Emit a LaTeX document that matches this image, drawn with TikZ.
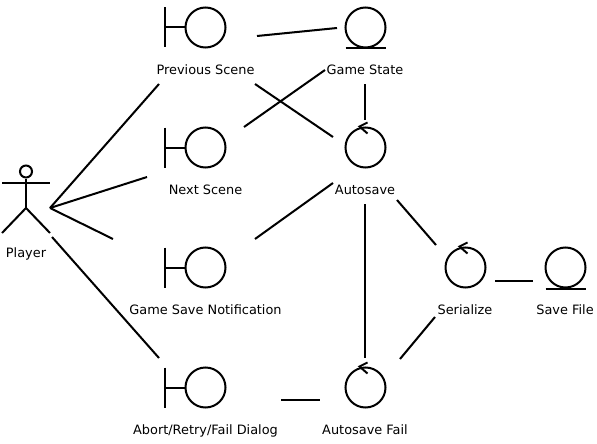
\documentclass[tikz,border=0pt]{standalone}
\usepackage{fontspec}
\setmainfont{DejaVu Sans}
\tikzset{
  line/.style={line width=2pt},
  roundel/.style={circle, draw, line width=2pt, minimum size=40pt, inner sep=0pt},
  caption/.style={anchor=base, inner sep=0pt, font=\fontsize{12.9}{14}\selectfont}
}
\begin{document}
\begin{tikzpicture}[x=1pt, y=-1pt]
  \useasboundingbox (0,0) rectangle (597,444);

  % boundaries
  \foreach \name/\y/\txt in {prev/27.5/{Previous Scene}, next/147.5/{Next Scene}, notif/267.5/{Game Save Notification}, abort/387.5/{Abort/Retry/Fail Dialog}} {
    \node [roundel] (\name) at (205.5,\y) {};
    \draw [line] (\name.west) -- ++(-20,0) coordinate (\name bar);
    \draw [line] ([yshift=20pt]\name bar) -- ([yshift=-20pt]\name bar);
    \node [caption] (\name text) at (205.5,\y+47.4) {\txt};
  }

  % entities
  \foreach \name/\x/\y/\txt in {state/365.5/27.5/{Game State}, file/565.5/267.5/{Save File}} {
    \node [roundel] (\name) at (\x,\y) {};
    \draw [line] ([xshift=-20pt]\name.south) -- ([xshift=20pt]\name.south);
    \node [caption] (\name text) at (\x-0.5,\y+47.4) {\txt};
  }

  % controls
  \foreach \name/\x/\y/\txt in {auto/365.5/147.5/{Autosave}, fail/365.5/387.5/{Autosave Fail}, serial/465.5/267.5/{Serialize}} {
    \node [roundel] (\name) at (\x,\y) {};
    \draw [line] ([shift={(2,-4)}]\name.north) -- ([shift={(-6,0)}]\name.north) -- ([shift={(2,7)}]\name.north);
    \node [caption] (\name text) at (\x-0.5,\y+47.4) {\txt};
  }

  % player
  \node [circle, draw, line width=2pt, minimum size=12pt, inner sep=0pt] (head) at (26,171.5) {};
  \coordinate (hip) at (26,208);
  \draw [line] (head) -- (hip);
  \draw [line] (2,183) -- (50,183);
  \draw [line] (2,233) -- (hip) -- (50,233);
  \node [caption] (playertext) at (26,257) {Player};

  % ends of the lines
  \coordinate (playerE) at (50,208);
  \coordinate (playerS) at (52,237);
  \coordinate (prevSW) at (159,84);
  \coordinate (prevE) at (257,36);
  \coordinate (prevSE) at (255,84);
  \coordinate (nextW) at (147,177);
  \coordinate (nextE) at (244,127);
  \coordinate (notifW) at (113,239);
  \coordinate (notifE) at (255,239);
  \coordinate (abortW) at (159,358);
  \coordinate (abortE) at (281,400);
  \coordinate (stateW) at (337,28);
  \coordinate (stateSW) at (325,70);
  \coordinate (stateS) at (365,84);
  \coordinate (autoN) at (365,120);
  \coordinate (autoNW) at (333,137);
  \coordinate (autoSW) at (333,183);
  \coordinate (autoS) at (365,204);
  \coordinate (autoSE) at (397,200);
  \coordinate (serialNW) at (436,245);
  \coordinate (serialSW) at (435,317);
  \coordinate (serialE) at (495,281);
  \coordinate (fileW) at (533,281);
  \coordinate (failN) at (365,358);
  \coordinate (failNE) at (400,359);
  \coordinate (failW) at (320,400);

  \foreach \from/\to in {playerE/prevSW, playerE/nextW, playerE/notifW, playerS/abortW, prevE/stateW, prevSE/autoNW, nextE/stateSW, stateS/autoN, notifE/autoSW, autoS/failN, autoSE/serialNW, serialSW/failNE, serialE/fileW, abortE/failW}
    \draw [line] (\from) -- (\to);
\end{tikzpicture}
\end{document}
